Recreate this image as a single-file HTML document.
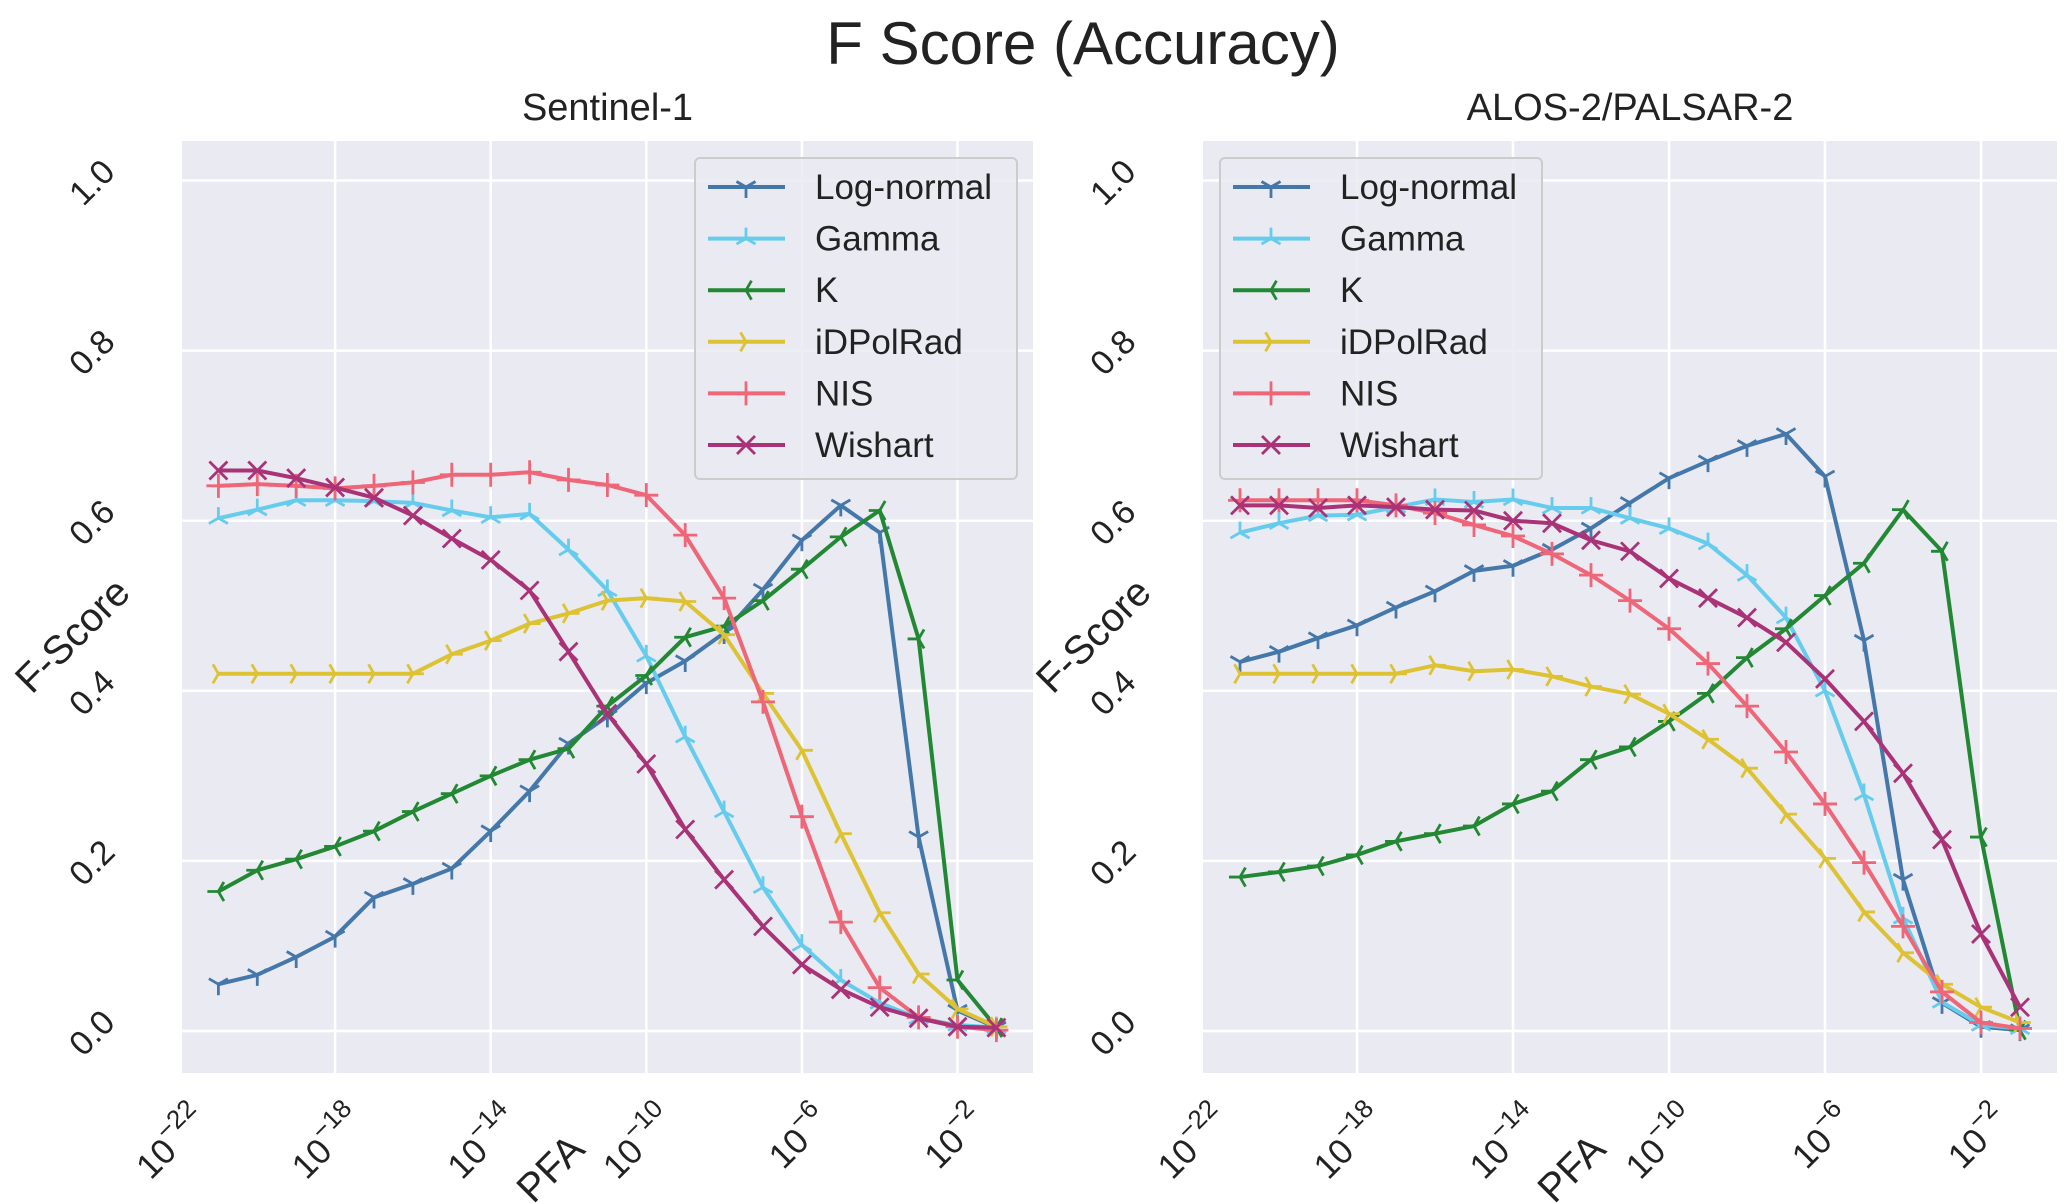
<!DOCTYPE html>
<html><head><meta charset="utf-8"><style>
body{margin:0;background:#fff;}
svg{display:block;font-family:"Liberation Sans",sans-serif;}
</style></head><body>
<svg id="fig" width="2067" height="1204" viewBox="0 0 2067 1204">
<text x="1083" y="64" font-size="60" text-anchor="middle" fill="#222">F Score (Accuracy)</text>
</svg>
<script>
const exps = [-21,-20,-19,-18,-17,-16,-15,-14,-13,-12,-11,-10,-9,-8,-7,-6,-5,-4,-3,-2,-1];
const xTicks = [-22,-18,-14,-10,-6,-2];
const yTicks = [0,0.2,0.4,0.6,0.8,1.0];
const seriesNames = ["Log-normal","Gamma","K","iDPolRad","NIS","Wishart"];
const s1LogNormal = [0.055,0.066,0.087,0.111,0.157,0.173,0.191,0.235,0.282,0.338,0.370,0.409,0.435,0.468,0.519,0.577,0.618,0.586,0.228,0.024,0.004];
const s1Gamma = [0.603,0.613,0.624,0.624,0.623,0.621,0.612,0.604,0.608,0.566,0.518,0.441,0.346,0.258,0.169,0.101,0.060,0.033,0.015,0.007,0.004];
const s1K = [0.164,0.189,0.202,0.217,0.235,0.258,0.279,0.300,0.319,0.332,0.382,0.418,0.463,0.476,0.506,0.543,0.581,0.612,0.461,0.060,0.004];
const s1IDPolRad = [0.420,0.420,0.420,0.420,0.420,0.420,0.443,0.459,0.479,0.491,0.506,0.509,0.505,0.466,0.397,0.330,0.232,0.139,0.067,0.026,0.005];
const s1NIS = [0.641,0.643,0.641,0.638,0.641,0.645,0.654,0.654,0.657,0.648,0.642,0.630,0.583,0.509,0.387,0.252,0.128,0.051,0.016,0.005,0.001];
const s1Wishart = [0.659,0.659,0.650,0.639,0.627,0.606,0.579,0.554,0.518,0.446,0.373,0.314,0.237,0.178,0.123,0.078,0.049,0.028,0.015,0.005,0.004];
const s2LogNormal = [0.434,0.446,0.462,0.477,0.498,0.517,0.541,0.547,0.566,0.591,0.621,0.650,0.670,0.688,0.702,0.652,0.459,0.178,0.033,0.005,0.001];
const s2Gamma = [0.586,0.597,0.606,0.607,0.616,0.625,0.622,0.625,0.615,0.615,0.603,0.591,0.573,0.536,0.486,0.400,0.278,0.133,0.034,0.007,0.003];
const s2K = [0.181,0.187,0.194,0.207,0.223,0.232,0.241,0.267,0.282,0.319,0.334,0.364,0.397,0.439,0.473,0.512,0.550,0.613,0.564,0.228,0.001];
const s2IDPolRad = [0.420,0.420,0.420,0.420,0.420,0.430,0.423,0.425,0.417,0.405,0.396,0.373,0.343,0.309,0.255,0.203,0.140,0.092,0.055,0.028,0.010];
const s2NIS = [0.624,0.624,0.624,0.624,0.618,0.609,0.595,0.582,0.561,0.536,0.506,0.473,0.432,0.382,0.328,0.267,0.198,0.123,0.046,0.010,0.003];
const s2Wishart = [0.618,0.618,0.615,0.618,0.616,0.613,0.612,0.600,0.597,0.577,0.564,0.532,0.509,0.486,0.457,0.414,0.364,0.303,0.225,0.114,0.028];

const colors = ["#4477AA","#66CCEE","#228833","#DDC233","#EE6677","#AA3377"];
const markers = ["tri_down","tri_up","tri_left","tri_right","plus","x"];
const NS = "http://www.w3.org/2000/svg";
const svg = document.getElementById("fig");
function mk(tag, attrs, parent){const e=document.createElementNS(NS,tag);for(const k in attrs)e.setAttribute(k,attrs[k]);(parent||svg).appendChild(e);return e;}

function markerPath(type,x,y,r){
  const a=r*0.866,b=r*0.5;
  switch(type){
    case "tri_down": return `M${x},${y}v${r}M${x},${y}l${-a},${-b}M${x},${y}l${a},${-b}`;
    case "tri_up": return `M${x},${y}v${-r}M${x},${y}l${-a},${b}M${x},${y}l${a},${b}`;
    case "tri_left": return `M${x},${y}h${-r}M${x},${y}l${b},${-a}M${x},${y}l${b},${a}`;
    case "tri_right": return `M${x},${y}h${r}M${x},${y}l${-b},${-a}M${x},${y}l${-b},${a}`;
    case "plus": return `M${x-r},${y}h${2*r}M${x},${y-r}v${2*r}`;
    default: {const d=r*0.75;return `M${x-d},${y-d}L${x+d},${y+d}M${x-d},${y+d}L${x+d},${y-d}`;}
  }
}

function drawPanel(cfg){
  const g=mk("g",{});
  
  
  const xS=e=>cfg.x0+(e+22)*cfg.dec;
  const yS=v=>1031-v*850.5;
  const bg=mk("rect",{x:cfg.left,y:141,width:cfg.right-cfg.left,height:932,fill:"#EAEAF2"},g);
  
  
  yTicks.forEach(t=>{
    const l=mk("line",{x1:cfg.left,x2:cfg.right,y1:yS(t),y2:yS(t),stroke:"#fff","stroke-width":2.5},g);
    
    
    const tx=mk("text",{x:0,y:0,"font-size":34,fill:"#222","text-anchor":"middle",transform:`translate(${cfg.left-82},${yS(t)+10}) rotate(-45)`},g);
    tx.textContent=t.toFixed(1);
    
    
  });
  xTicks.forEach(t=>{
    const x=xS(t);
    if(x>cfg.left){
      const l=mk("line",{x1:x,x2:x,y1:141,y2:1073,stroke:"#fff","stroke-width":2.5},g);
      
      
    }
    const tx=mk("text",{x:0,y:0,"font-size":35,fill:"#222","text-anchor":"end",transform:`translate(${x+30},${1122}) rotate(-45)`},g);
    
    
    const t1=mk("tspan",{},tx);t1.textContent="10";
    const t2=mk("tspan",{dy:-17,"font-size":26},tx);t2.textContent="\u2212"+Math.abs(t);
  });
  const tt=mk("text",{x:(cfg.left+cfg.right)/2,y:120,"font-size":38,fill:"#222","text-anchor":"middle"},g);
  tt.textContent=cfg.title;
  
  
  const yl=mk("text",{x:0,y:0,"font-size":40,fill:"#222","text-anchor":"middle",transform:`translate(${cfg.left-100},${645}) rotate(-45)`},g);
  yl.textContent="F-Score";
  
  
  const xl=mk("text",{x:0,y:0,"font-size":40,fill:"#222","text-anchor":"middle",transform:`translate(${cfg.left+378},${1178}) rotate(-45)`},g);
  xl.textContent="PFA";
  
  
  cfg.series.forEach((vals,i)=>{
    const sg=mk("g",{},g);
    
    
    const pts=vals.map((v,j)=>xS(exps[j])+","+yS(v)).join(" ");
    mk("polyline",{points:pts,fill:"none",stroke:colors[i],"stroke-width":4,"stroke-linejoin":"round"},sg);
    let d="";
    vals.forEach((v,j)=>{d+=markerPath(markers[i],xS(exps[j]),yS(v),i>=4?12:11);});
    mk("path",{d:d,stroke:colors[i],"stroke-width":2.8,fill:"none"},sg);
  });
  const lg=mk("g",{},g);
  
  
  mk("rect",{x:cfg.legX,y:158,width:322,height:321,rx:5,fill:"#EAEAF2","fill-opacity":0.85,stroke:"#cccccc","stroke-width":2},lg);
  seriesNames.forEach((n,i)=>{
    const ey=187+i*51.6;
    const eg=mk("g",{},lg);
    
    
    mk("line",{x1:cfg.legX+13,x2:cfg.legX+90,y1:ey,y2:ey,stroke:colors[i],"stroke-width":4},eg);
    mk("path",{d:markerPath(markers[i],cfg.legX+51,ey,i>=4?12:11),stroke:colors[i],"stroke-width":2.8,fill:"none"},eg);
    const t=mk("text",{x:cfg.legX+120,y:ey+12,"font-size":35,fill:"#222"},eg);
    t.textContent=n;
  });
}
drawPanel({name:"sentinel-1-panel",title:"Sentinel-1",left:182,right:1033,x0:179.5,dec:38.9,legX:695,
  series:[s1LogNormal,s1Gamma,s1K,s1IDPolRad,s1NIS,s1Wishart]});
drawPanel({name:"alos-2-panel",title:"ALOS-2/PALSAR-2",left:1203,right:2057,x0:1201,dec:39,legX:1220,
  series:[s2LogNormal,s2Gamma,s2K,s2IDPolRad,s2NIS,s2Wishart]});
</script>
</body></html>
